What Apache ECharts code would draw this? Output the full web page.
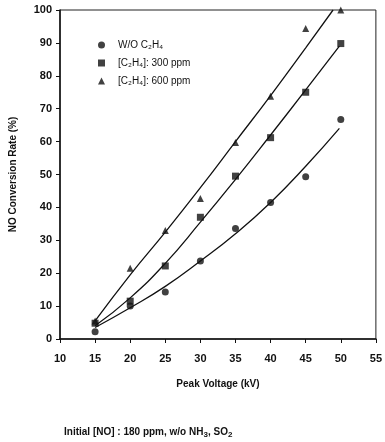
<!DOCTYPE html>
<html>
<head>
<meta charset="utf-8">
<script src="https://cdn.jsdelivr.net/npm/echarts@6/dist/echarts.min.js"></script>
<style>
  html, body { margin: 0; padding: 0; background: #fff; }
  #chart { width: 385px; height: 442px; }
</style>
</head>
<body>
<div id="chart"></div>
<script>
// 测量点 (kV, %)
var voltage = [15, 20, 25, 30, 35, 40, 45, 50];
var noC2H4 = [2.2, 10, 14.3, 23.7, 33.6, 41.5, 49.3, 66.7];
var c2h4_300 = [4.8, 11.5, 22.2, 37, 49.5, 61.2, 75, 89.8];
var c2h4_600 = [5.5, 21.5, 33, 42.7, 59.7, 73.8, 94.4, 100];

// 拟合曲线
var fitNo = [[15, 3.5], [20, 9.5], [25, 16], [30, 23.7], [35, 32], [40, 41.5], [45, 52.5], [49.8, 64]];
var fit300 = [[15, 4], [20, 12.5], [25, 23], [30, 35.5], [35, 48.5], [40, 62], [45, 75.7], [49.8, 89]];
var fit600 = [[15, 5.5], [20, 19.5], [25, 32.5], [30, 46], [35, 60], [40, 74], [45, 88.5], [48.9, 100]];

var legendNames = ['W/O C₂H₄', '[C₂H₄]: 300 ppm', '[C₂H₄]: 600 ppm'];

function pairs(xs, ys) {
    var out = [];
    for (var i = 0; i < xs.length; i++) {
        out.push([xs[i], ys[i]]);
    }
    return out;
}

var font = 'Liberation Sans, Arial, sans-serif';
var mychart = echarts.init(document.getElementById('chart'));
var option = {
    backgroundColor: '#fff',
    animation: false,
    title: {
        text: 'Initial [NO] : 180 ppm, w/o NH{s|3}, SO{s|2}',
        left: 59,
        top: 420,
        textStyle: {
            fontFamily: font,
            fontSize: 10,
            fontWeight: 'bold',
            color: '#111',
            rich: {
                s: { fontSize: 8, fontWeight: 'bold', fontFamily: font, color: '#111', padding: [6, 0, 0, 0] }
            }
        }
    },
    legend: {
        orient: 'vertical',
        left: 93,
        top: 35,
        itemGap: 8,
        itemWidth: 7,
        itemHeight: 7,
        data: legendNames,
        textStyle: { fontFamily: font, fontSize: 10, color: '#111', padding: [0, 0, 0, 8] }
    },
    grid: {
        left: 60,
        right: 6,
        top: 10,
        bottom: 103,
        show: true,
        borderColor: '#222',
        borderWidth: 1
    },
    xAxis: {
        type: 'value',
        min: 10,
        max: 55,
        interval: 5,
        name: 'Peak Voltage (kV)',
        nameLocation: 'middle',
        nameGap: 40,
        nameTextStyle: { fontFamily: font, fontSize: 10, fontWeight: 'bold', color: '#111' },
        axisLine: { lineStyle: { color: '#111', width: 1.5 } },
        axisTick: { inside: false, length: 4, lineStyle: { color: '#111' } },
        axisLabel: { fontFamily: font, fontSize: 11, fontWeight: 'bold', color: '#111', margin: 14 },
        splitLine: { show: false }
    },
    yAxis: {
        type: 'value',
        min: 0,
        max: 100,
        interval: 10,
        name: 'NO Conversion Rate (%)',
        nameLocation: 'middle',
        nameGap: 42,
        nameTextStyle: { fontFamily: font, fontSize: 10, fontWeight: 'bold', color: '#111' },
        axisLine: { show: true, lineStyle: { color: '#111', width: 1.5 } },
        axisTick: { show: true, length: 4, lineStyle: { color: '#111' } },
        axisLabel: { fontFamily: font, fontSize: 11, fontWeight: 'bold', color: '#111', margin: 8 },
        splitLine: { show: false }
    },
    series: [
        {
            name: legendNames[0], type: 'scatter', symbol: 'circle', symbolSize: 7,
            itemStyle: { color: '#111' }, data: pairs(voltage, noC2H4)
        },
        {
            name: legendNames[1], type: 'scatter', symbol: 'rect', symbolSize: 7,
            itemStyle: { color: '#111' }, data: pairs(voltage, c2h4_300)
        },
        {
            name: legendNames[2], type: 'scatter', symbol: 'triangle', symbolSize: 7,
            itemStyle: { color: '#111' }, data: pairs(voltage, c2h4_600)
        },
        {
            type: 'line', smooth: true, showSymbol: false, silent: true,
            lineStyle: { color: '#111', width: 1.3 }, data: fitNo
        },
        {
            type: 'line', smooth: true, showSymbol: false, silent: true,
            lineStyle: { color: '#111', width: 1.3 }, data: fit300
        },
        {
            type: 'line', smooth: true, showSymbol: false, silent: true,
            lineStyle: { color: '#111', width: 1.3 }, data: fit600
        }
    ]
};
mychart.setOption(option);
</script>
</body>
</html>
